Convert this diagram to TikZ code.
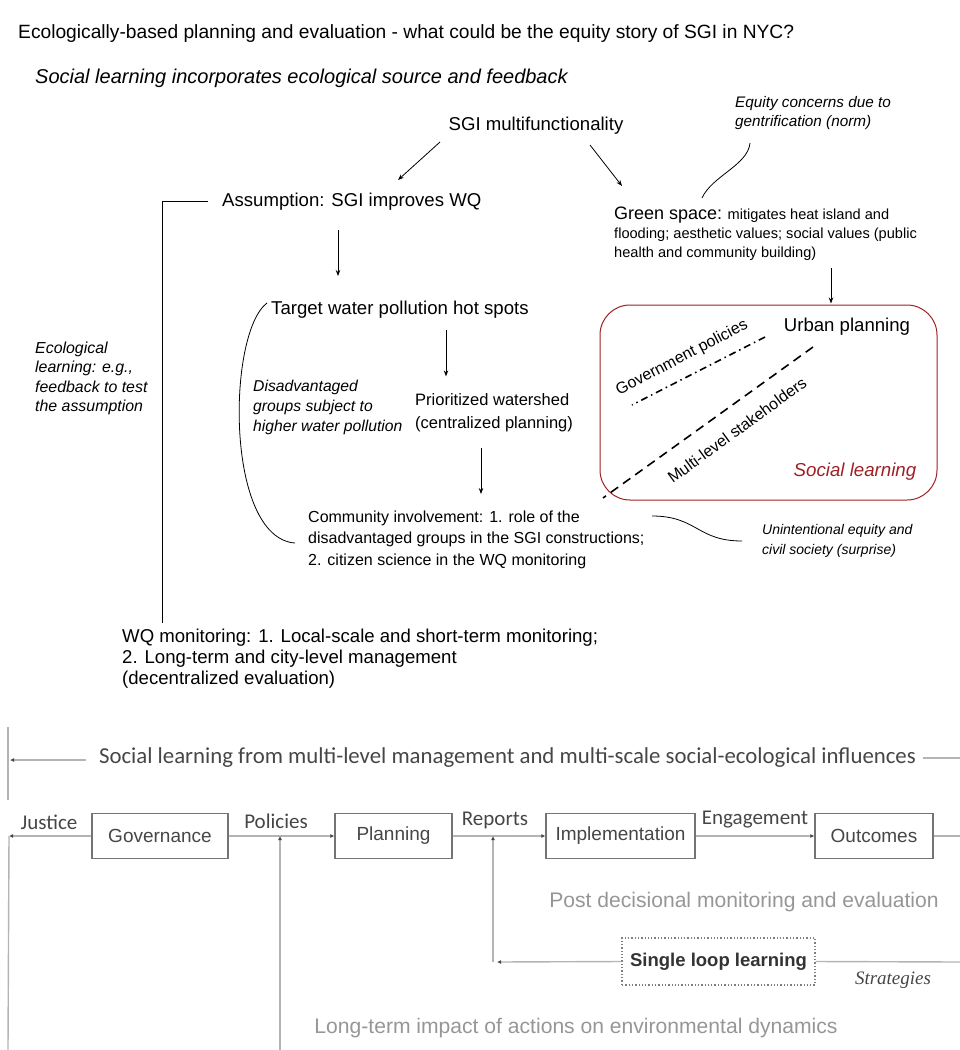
\documentclass[tikz,border=0pt]{standalone}
\usepackage{fontspec}
\setmainfont{Liberation Sans}
\newfontfamily\narrowfont{Carlito}
\newfontfamily\romanfont{Liberation Serif}
\usetikzlibrary{positioning, arrows.meta, calc}

\definecolor{boxred}{RGB}{158,32,36}
\definecolor{figline}{RGB}{180,180,180}
\definecolor{figtext}{RGB}{70,70,70}
\definecolor{figpale}{RGB}{150,150,150}

\tikzset{
    txt/.style={inner sep=0pt, align=left, font=\fontsize{18.6}{21}\selectfont},
    note/.style={inner sep=0pt, align=left, font=\fontsize{15.9}{19.5}\selectfont\itshape},
    arr/.style={-{Stealth[length=6pt,width=4.5pt]}, line width=0.8pt},
    fig/.style={line width=1.4pt, draw=figline},
    dot/.style={-{Latex[length=4pt,width=4pt,color=figtext]}},
    figbox/.style={draw=figtext!75, line width=1.3pt, inner sep=0pt, text=figtext,
        font=\fontsize{19}{21}\selectfont, minimum height=45},
    figlbl/.style={inner sep=0pt, text=figtext, font=\narrowfont\fontsize{21}{23}\selectfont},
    figpaletxt/.style={inner sep=0pt, text=figpale, font=\fontsize{21.1}{23}\selectfont},
}

\begin{document}
\begin{tikzpicture}[x=1pt, y=-1pt]
    \useasboundingbox (0,0) rectangle (960,1050);

    \node[txt, anchor=base west, font=\fontsize{19.2}{22}\selectfont] (title) at (18,38.3) {Ecologically-based planning and evaluation - what could be the equity story of SGI in NYC?};
    \node[txt, anchor=base west, font=\fontsize{20}{22}\selectfont\itshape] (sub) at (35,83.6) {Social learning incorporates ecological source and feedback};

    \node[txt, anchor=base] (sgi) at (536,130) {SGI multifunctionality};
    \node[note, anchor=north west, font=\fontsize{15.3}{19}\selectfont\itshape] (equity) at (735,96) {Equity concerns due to\\gentrification (norm)};
    \node[txt, anchor=base west] (assump) at (222,206) {Assumption: SGI improves WQ};
    \node[txt, anchor=north west, font=\fontsize{14.6}{19}\selectfont] (green) at (614,207)
        {{\fontsize{18}{19}\selectfont Green space:} mitigates heat island and\\flooding; aesthetic values; social values (public\\health and community building)};
    \node[txt, anchor=base west] (target) at (271,314) {Target water pollution hot spots};
    \node[note, anchor=north west, font=\fontsize{15.7}{20}\selectfont\itshape] (disadv) at (253,380) {Disadvantaged\\groups subject to\\higher water pollution};
    \node[txt, anchor=north west, font=\fontsize{16.5}{23}\selectfont] (prior) at (415,393.4) {Prioritized watershed\\(centralized planning)};
    \node[txt, anchor=north west, font=\fontsize{16}{21.5}\selectfont] (comm) at (308,510.5)
        {Community involvement: 1. role of the\\disadvantaged groups in the SGI constructions;\\2. citizen science in the WQ monitoring};
    \node[note, anchor=north west, font=\fontsize{14}{20}\selectfont\itshape] (unint) at (762,524) {Unintentional equity and\\civil society (surprise)};
    \node[note, anchor=north west] (eco) at (35,341.5) {Ecological\\learning: e.g.,\\feedback to test\\the assumption};
    \node[txt, anchor=north west] (wq) at (122,628.5)
        {WQ monitoring: 1. Local-scale and short-term monitoring;\\2. Long-term and city-level management\\(decentralized evaluation)};

    \node[draw=boxred, line width=1pt, rounded corners=30, minimum width=337, minimum height=195, inner sep=0pt] (slbox) at (768.5,402.5) {};
    \node[txt, anchor=base] (urban) at (847,331) {Urban planning};
    \node[txt, anchor=base, text=boxred, font=\fontsize{18.7}{20}\selectfont\itshape] (social) at (855,476) {Social learning};
    \node[inner sep=0pt, rotate=27.4, font=\fontsize{16}{18}\selectfont] (govpol) at (682,358) {Government policies};
    \node[inner sep=0pt, rotate=36.2, font=\fontsize{16}{18}\selectfont] (multi) at (737,430) {Multi-level stakeholders};
    \coordinate (govend) at (632,405);

    \draw[arr] ([shift={(-96,12)}]sgi.base) -- ([shift={(176,-26)}]assump.base west);
    \draw[arr] ([shift={(54,15)}]sgi.base) -- ([shift={(8,-21)}]green.north west);
    \draw[arr] ([shift={(116,24)}]assump.base west) -- ([shift={(67,-38)}]target.base west);
    \draw[arr] ([shift={(175,16)}]target.base west) -- ([shift={(31,-17)}]prior.north west);
    \draw[arr] ([shift={(66,55)}]prior.north west) -- ([shift={(173,-16.5)}]comm.north west);
    \draw[arr] ([shift={(217,61)}]green.north west) -- ([shift={(62.5,-1)}]slbox.north);
    \draw[line width=0.8pt] ([shift={(-14,-5)}]assump.base west) -| ([shift={(40,-5.5)}]wq.north west);
    \draw[line width=0.8pt] ([shift={(88,-9)}]green.north west) .. controls +(10,-22) and +(-2,22) .. ([shift={(15,47)}]equity.north west);
    \draw[line width=0.8pt] ([shift={(-4,-11)}]target.base west) .. controls +(-40,30) and +(-70,-5) .. ([shift={(-13,32.5)}]comm.north west);
    \draw[line width=0.8pt] ([shift={(344,5.5)}]comm.north west) .. controls +(45,0) and +(-45,0) .. ([shift={(-20,17)}]unint.north west);
    \draw[line width=1.6pt, dash pattern=on 7pt off 4pt on 1.5pt off 4pt] ([shift={(-82,6)}]urban.base) -- (govend);
    \draw[line width=1.6pt, dash pattern=on 9pt off 6pt] ([shift={(-34,16)}]urban.base) -- ([shift={(295,-12.5)}]comm.north west);

    \node[figlbl, font=\narrowfont\fontsize{22.8}{24}\selectfont] (heading) at (507.5,758)
        {Social learning from multi-level management and multi-scale social-ecological influences};
    \coordinate (hleft) at (10,760);
    \coordinate (htop) at (8,727);
    \coordinate (hbot) at (8,800);
    \coordinate (hright) at (960,758);
    \draw[fig] (htop) -- (hbot);
    \draw[fig, dot] ([shift={(-13,2)}]heading.west) -- (hleft);
    \draw[fig] ([xshift=7]heading.east) -- (hright);

    \node[figbox, minimum width=136] (gov) at (160,836) {Governance};
    \node[figbox, minimum width=117] (plan) at (393.5,836) {Planning};
    \node[figbox, minimum width=149] (impl) at (620.5,836) {Implementation};
    \node[figbox, minimum width=118] (outc) at (874,836) {Outcomes};
    \node[figlbl] (justice) at (49,822) {Justice};
    \node[figlbl] (policies) at (276,821) {Policies};
    \node[figlbl] (reports) at (495,820) {Reports};
    \node[figlbl] (engage) at (755,820) {Engagement};
    \node[figpaletxt] (post) at (744,902) {Post decisional monitoring and evaluation};
    \node[figbox, draw=figtext!70, dotted, minimum width=193, minimum height=47, font=\bfseries\fontsize{18.5}{20}\selectfont, text=black!80] (single) at (718.5,961.5) {Single loop learning};
    \node[inner sep=0pt, text=figtext, font=\romanfont\itshape\fontsize{19}{20}\selectfont] (strat) at (893,980) {Strategies};
    \node[figpaletxt] (longterm) at (576,1028) {Long-term impact of actions on environmental dynamics};

    \coordinate (leftend) at (9,836);
    \coordinate (leftbot) at (8,1050);
    \coordinate (polj) at (280,836);
    \coordinate (polbot) at (280,1050);
    \coordinate (repj) at (493,836);
    \coordinate (repbot) at (493,962);
    \coordinate (outr) at (960,836);
    \coordinate (singr) at (960,962);

    \draw[fig, dot] (gov.west) -- (leftend);
    \draw[fig] (leftend) -- (leftbot);
    \draw[fig, dot] (gov.east) -- (plan.west);
    \draw[fig, dot] (polbot) -- (polj);
    \draw[fig, dot] (plan.east) -- (impl.west);
    \draw[fig, dot] (repbot) -- (repj);
    \draw[fig, dot] (single.west) -- ([xshift=4]repbot);
    \draw[fig, dot] (impl.east) -- (outc.west);
    \draw[fig] (outc.east) -- (outr);
    \draw[fig] (single.east) -- (singr);
\end{tikzpicture}
\end{document}
